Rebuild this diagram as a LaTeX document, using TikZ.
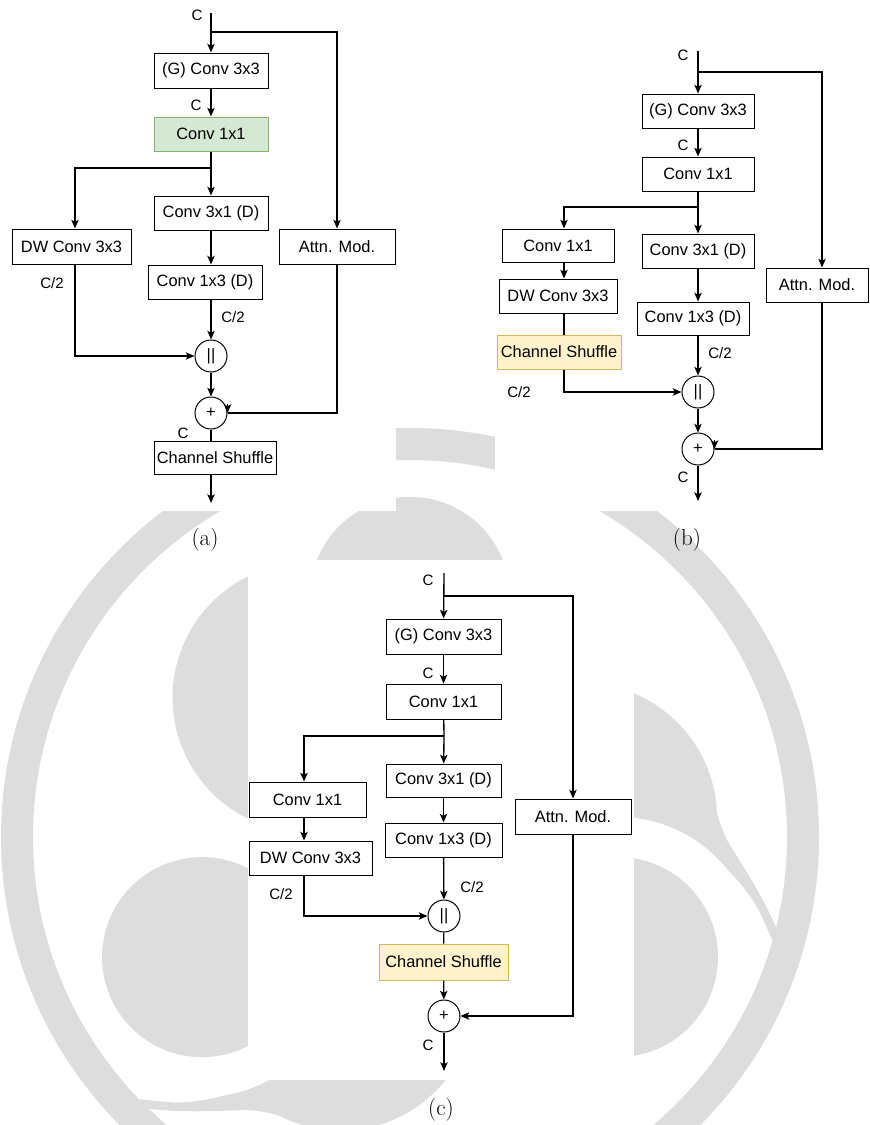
\documentclass[tikz,border=0pt]{standalone}
\usepackage{fontspec}
\usetikzlibrary{arrows.meta}
\newfontfamily\diagsans{Liberation Sans}
\definecolor{wm}{RGB}{221,221,221}
\definecolor{gfill}{HTML}{D5E8D4}
\definecolor{gline}{HTML}{82B366}
\definecolor{yfill}{HTML}{FFF2CC}
\definecolor{yline}{HTML}{D6B656}
\begin{document}
\begin{tikzpicture}[x=0.75pt,y=-0.75pt,
  box/.style={draw, line width=0.75pt, inner sep=0pt, font=\diagsans\fontsize{12.3pt}{14pt}\selectfont},
  wd/.style={minimum width=#1*0.75pt},
  ht/.style={minimum height=#1*0.75pt},
  gbox/.style={fill=gfill, draw=gline},
  ybox/.style={fill=yfill, draw=yline},
  opnode/.style={draw, circle, line width=0.75pt, minimum size=32*0.75pt, inner sep=0pt, font=\diagsans\fontsize{12.3pt}{14pt}\selectfont},
  lab/.style={inner sep=0pt, font=\diagsans\fontsize{11.3pt}{13pt}\selectfont},
  sublabel/.style={inner sep=0pt, font=\fontsize{17.28pt}{20pt}\selectfont},
  ln/.style={line width=1pt},
  arr/.style={line width=1pt, -{Stealth[length=6.5pt,width=5.5pt,inset=1.5pt]}}
]
% page
\fill[white] (0,0) rectangle (869,1125);
\useasboundingbox (0,0) rectangle (869,1125);

% background emblem: comma shapes, three discs and an outer ring
\begin{scope}
  \clip (0,0) rectangle (869,1125);
  \begin{scope}[shift={(410,837)}]
    \foreach \r in {0,120,240}{
      \begin{scope}[rotate=\r]
        \fill[wm] (172,-19) circle (135);
      \end{scope}}
    \foreach \r in {0,240}{
      \begin{scope}[rotate=\r]
        \fill[wm] (307,-24) .. controls (311,-10) and (314,-3) .. (317,3)
          .. controls (328,22) and (348,50) .. (366,90) -- (385,105) -- (370,118)
          .. controls (360,100) and (355,85) .. (347,70)
          .. controls (335,50) and (325,40) .. (310,25) -- (250,0) -- (260,-40) -- cycle;
      \end{scope}}
    \foreach \r in {0,120,240}{
      \begin{scope}[rotate=\r]
        \fill[white] (208,120) circle (140);
      \end{scope}}
    \foreach \r in {0,120,240}{
      \begin{scope}[rotate=\r]
        \fill[wm] (208,120) circle (100);
      \end{scope}}
    \draw[wm, line width=24pt] (0,0) circle (393);
  \end{scope}
\end{scope}

% white panels
\fill[white] (0,0) rectangle (396,511);
\fill[white] (495,0) rectangle (869,511);
\fill[white] (248,560) rectangle (634,1080);

% ---------------- block (a) ----------------
\node[box, wd=114, ht=35] (ag) at (211,70.5) {(G) Conv 3x3};
\node[box, gbox, wd=114, ht=34] (ac1) at (211,134) {Conv 1x1};
\node[box, wd=114, ht=34] (a31) at (211,213) {Conv 3x1 (D)};
\node[box, wd=114, ht=34] (a13) at (205,282) {Conv 1x3 (D)};
\node[box, wd=119, ht=35] (adw) at (71.5,246.5) {DW Conv 3x3};
\node[box, wd=116, ht=35] (aat) at (337,246.5) {Attn. Mod.};
\node[opnode] (acat) at (211,356) {||};
\node[opnode] (aadd) at (211,413) {+};
\node[box, wd=122, ht=33] (acs) at (215,457.5) {Channel Shuffle};
\coordinate (ain) at (211,13);
\coordinate (abr) at (211,32);
\coordinate (abr2) at (211,168);
\coordinate (adwx) at (75,0);
\coordinate (aout) at (211,503);

\draw[arr] (ain) -- (ag);
\draw[arr] (abr) -| (aat);
\draw[arr] (ag) -- (ac1);
\draw[ln] (ac1) -- (abr2);
\draw[arr] (abr2) -- (a31);
\draw[arr] (abr2) -| (adw.north -| adwx);
\draw[arr] (a31) -- (a31 |- a13.north);
\draw[arr] (acat |- a13.south) -- (acat);
\draw[arr] (adw.south -| adwx) |- (acat);
\draw[arr] (acat) -- (aadd);
\draw[ln] (aat) |- (aadd);
\draw[arr] ([yshift=7pt]aadd.east) -- (aadd.east);
\draw[ln] (aadd) -- (aadd |- acs.north);
\draw[arr] (aadd |- acs.south) -- (aout);

\node[lab] (alc1) at (197,15) {C};
\node[lab] (alc2) at (196,105) {C};
\node[lab] (alh1) at (52,283) {C/2};
\node[lab] (alh2) at (233,317) {C/2};
\node[lab] (alc3) at (183,433) {C};
\node[sublabel] (capa) at (205,540) {(a)};

% ---------------- block (b) ----------------
\node[box, wd=112, ht=34] (bg) at (698,111) {(G) Conv 3x3};
\node[box, wd=112, ht=34] (bc1) at (698,174) {Conv 1x1};
\node[box, wd=112, ht=33] (bl1) at (558,245.5) {Conv 1x1};
\node[box, wd=112, ht=34] (b31) at (698,251) {Conv 3x1 (D)};
\node[box, wd=102, ht=34] (bat) at (817,285) {Attn. Mod.};
\node[box, wd=118, ht=34] (bdw) at (558,296) {DW Conv 3x3};
\node[box, ybox, wd=124, ht=34] (bcs) at (559,352) {Channel Shuffle};
\node[box, wd=112, ht=33] (b13) at (693,318.5) {Conv 1x3 (D)};
\node[opnode] (bcat) at (698,392) {||};
\node[opnode] (badd) at (698,449) {+};
\coordinate (bin) at (698,51);
\coordinate (bbr) at (698,72);
\coordinate (bbr2) at (698,207);
\coordinate (blx) at (564,0);
\coordinate (batx) at (822,0);
\coordinate (bout) at (698,501);

\draw[arr] (bin) -- (bg);
\draw[arr] (bbr) -| (bat.north -| batx);
\draw[arr] (bg) -- (bc1);
\draw[ln] (bc1) -- (bbr2);
\draw[arr] (bbr2) -- (b31);
\draw[arr] (bbr2) -| (bl1.north -| blx);
\draw[arr] (bl1.south -| blx) -- (bdw.north -| blx);
\draw[ln] (bdw.south -| blx) -- (bcs.north -| blx);
\draw[arr] (bcs.south -| blx) |- (bcat);
\draw[arr] (b31) -- (b31 |- b13.north);
\draw[arr] (bcat |- b13.south) -- (bcat);
\draw[arr] (bcat) -- (badd);
\draw[ln] (bat.south -| batx) |- (badd);
\draw[arr] ([yshift=7pt]badd.east) -- (badd.east);
\draw[arr] (badd) -- (bout);

\node[lab] (blc1) at (683,55) {C};
\node[lab] (blc2) at (683,145) {C};
\node[lab] (blh1) at (519,392) {C/2};
\node[lab] (blh2) at (720,353) {C/2};
\node[lab] (blc3) at (683,477) {C};
\node[sublabel] (capb) at (687,540) {(b)};

% ---------------- block (c) ----------------
\node[box, wd=115, ht=35] (cg) at (443.5,636.5) {(G) Conv 3x3};
\node[box, wd=115, ht=35] (cc1) at (443.5,701.5) {Conv 1x1};
\node[box, wd=115, ht=33] (c31) at (443.5,780.5) {Conv 3x1 (D)};
\node[box, wd=117, ht=35] (cl1) at (307.5,799.5) {Conv 1x1};
\node[box, wd=123, ht=34] (cdw) at (310.5,858) {DW Conv 3x3};
\node[box, wd=117, ht=34] (c13) at (443.5,840) {Conv 1x3 (D)};
\node[box, wd=116, ht=35] (cat) at (573,816.5) {Attn. Mod.};
\node[opnode] (ccat) at (444,916) {||};
\node[box, ybox, wd=129, ht=36] (ccs) at (443.5,962) {Channel Shuffle};
\node[opnode] (cadd) at (444,1016) {+};
\coordinate (cin) at (444,573);
\coordinate (cbr) at (444,596);
\coordinate (cbr2) at (444,736);
\coordinate (clx) at (304,0);
\coordinate (cout) at (444,1071);

\draw[arr] (cin) -- (cg);
\draw[arr] (cbr) -| (cat);
\draw[arr] (cg) -- (cc1);
\draw[ln] (cc1) -- (cbr2);
\draw[arr] (cbr2) -- (c31);
\draw[arr] (cbr2) -| (cl1.north -| clx);
\draw[arr] (cl1.south -| clx) -- (cdw.north -| clx);
\draw[arr] (cdw.south -| clx) |- (ccat);
\draw[arr] (c31) -- (c13);
\draw[arr] (c13) -- (ccat);
\draw[ln] (ccat) -- (ccs);
\draw[arr] (ccs) -- (cadd);
\draw[arr] (cat) |- (cadd);
\draw[arr] (cadd) -- (cout);

\node[lab] (clc1) at (428,580) {C};
\node[lab] (clc2) at (428,673) {C};
\node[lab] (clh1) at (281,894) {C/2};
\node[lab] (clh2) at (472,887) {C/2};
\node[lab] (clc3) at (428,1045) {C};
\node[sublabel] (capc) at (441,1110) {(c)};
\end{tikzpicture}
\end{document}
